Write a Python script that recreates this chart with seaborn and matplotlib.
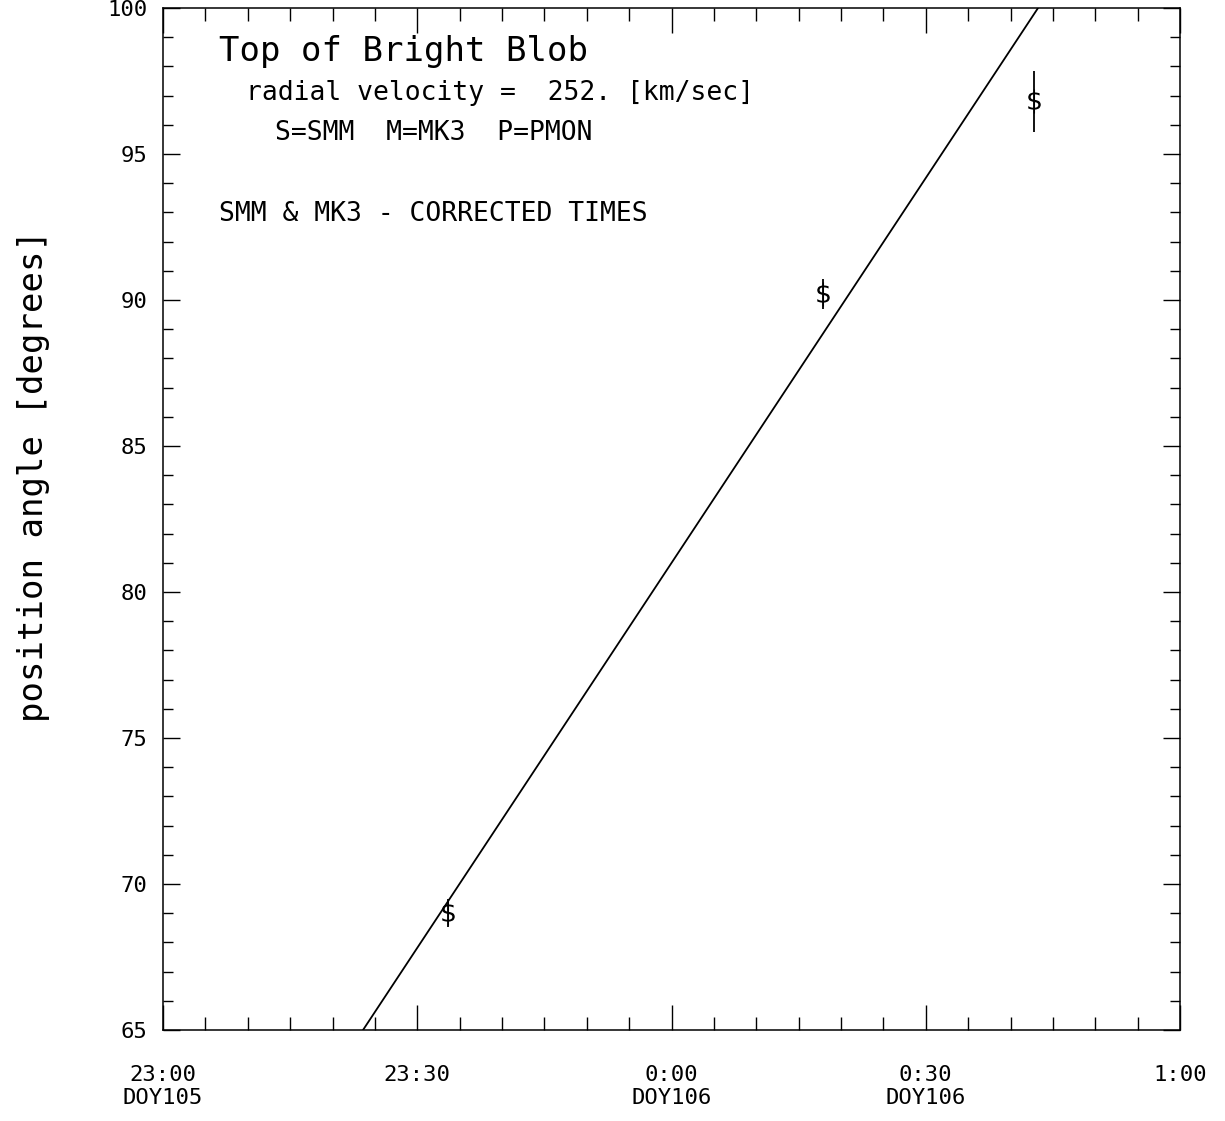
import matplotlib
matplotlib.use("Agg")
import matplotlib.pyplot as plt
import seaborn as sns
import pandas as pd
from matplotlib.ticker import MultipleLocator, FixedLocator

# ---- data (x = minutes after 23:00 DOY105) ----
obs_minutes = [33.6, 77.9, 102.8]
obs_angle = [69.0, 90.2, 96.8]
obs_err = [0.48, 0.51, 1.04]

fit_minutes = [23.6, 103.25]
fit_angle = [65.0, 100.0]

xtick_pos = [0, 30, 60, 90, 120]
xtick_labels = ["23:00\nDOY105", "23:30", "0:00\nDOY106", "0:30\nDOY106", "1:00"]
ytick_pos = [65, 70, 75, 80, 85, 90, 95, 100]

title_text = "Top of Bright Blob"
velocity_text = "radial velocity =  252. [km/sec]"
key_text = "S=SMM  M=MK3  P=PMON"
note_text = "SMM & MK3 - CORRECTED TIMES"
ylabel_text = "position angle [degrees]"

sns.set_style("ticks")
plt.rcParams["font.family"] = ["DejaVu Sans Mono", "DejaVu Sans"]
for k in ["text.color", "axes.labelcolor", "xtick.color", "ytick.color", "axes.edgecolor"]:
    plt.rcParams[k] = "black"

obs = pd.DataFrame({"t": obs_minutes, "pa": obs_angle, "err": obs_err})
fit = pd.DataFrame({"t": fit_minutes, "pa": fit_angle})

fig = plt.figure(figsize=(12.25, 11.21), dpi=100)
ax = fig.add_axes([163 / 1225, 1 - 1030 / 1121, (1180 - 163) / 1225, (1030 - 8) / 1121])

sns.lineplot(data=fit, x="t", y="pa", ax=ax, color="black", linewidth=1.3)
ax.errorbar(obs["t"], obs["pa"], yerr=obs["err"], fmt="none", ecolor="black",
            elinewidth=1.3, capsize=0)
sns.scatterplot(data=obs, x="t", y="pa", ax=ax, marker=r"$\$$", s=300,
                color="black", linewidth=0, zorder=5)

ax.set_xlim(0, 120)
ax.set_ylim(65, 100)

ax.xaxis.set_major_locator(FixedLocator(xtick_pos))
ax.set_xticklabels(xtick_labels, fontsize=16, linespacing=1.2)
ax.xaxis.set_minor_locator(MultipleLocator(5))
ax.yaxis.set_major_locator(FixedLocator(ytick_pos))
ax.set_yticklabels([str(v) for v in ytick_pos], fontsize=16)
ax.yaxis.set_minor_locator(MultipleLocator(1))

ax.tick_params(axis="x", which="major", direction="in", length=18, width=1.0,
               top=True, bottom=True, pad=25)
ax.tick_params(axis="x", which="minor", direction="in", length=9.5, width=1.0,
               top=True, bottom=True)
ax.tick_params(axis="y", which="major", direction="in", length=12, width=1.0,
               left=True, right=True, pad=11)
ax.tick_params(axis="y", which="minor", direction="in", length=7, width=1.0,
               left=True, right=True)

for s in ax.spines.values():
    s.set_visible(True)
    s.set_linewidth(1.1)
    s.set_color("black")

ax.set_xlabel("")
ax.set_ylabel(ylabel_text, fontsize=24.5)
ax.yaxis.set_label_coords(-0.111, 0.542)

ax.text(0.055, 0.957, title_text, transform=ax.transAxes, fontsize=24.5,
        va="center", ha="left")
ax.text(0.082, 0.917, velocity_text, transform=ax.transAxes, fontsize=19,
        va="center", ha="left")
ax.text(0.110, 0.878, key_text, transform=ax.transAxes, fontsize=19,
        va="center", ha="left")
ax.text(0.055, 0.798, note_text, transform=ax.transAxes, fontsize=19,
        va="center", ha="left")

fig.savefig("out.png", dpi=100, facecolor="white")
